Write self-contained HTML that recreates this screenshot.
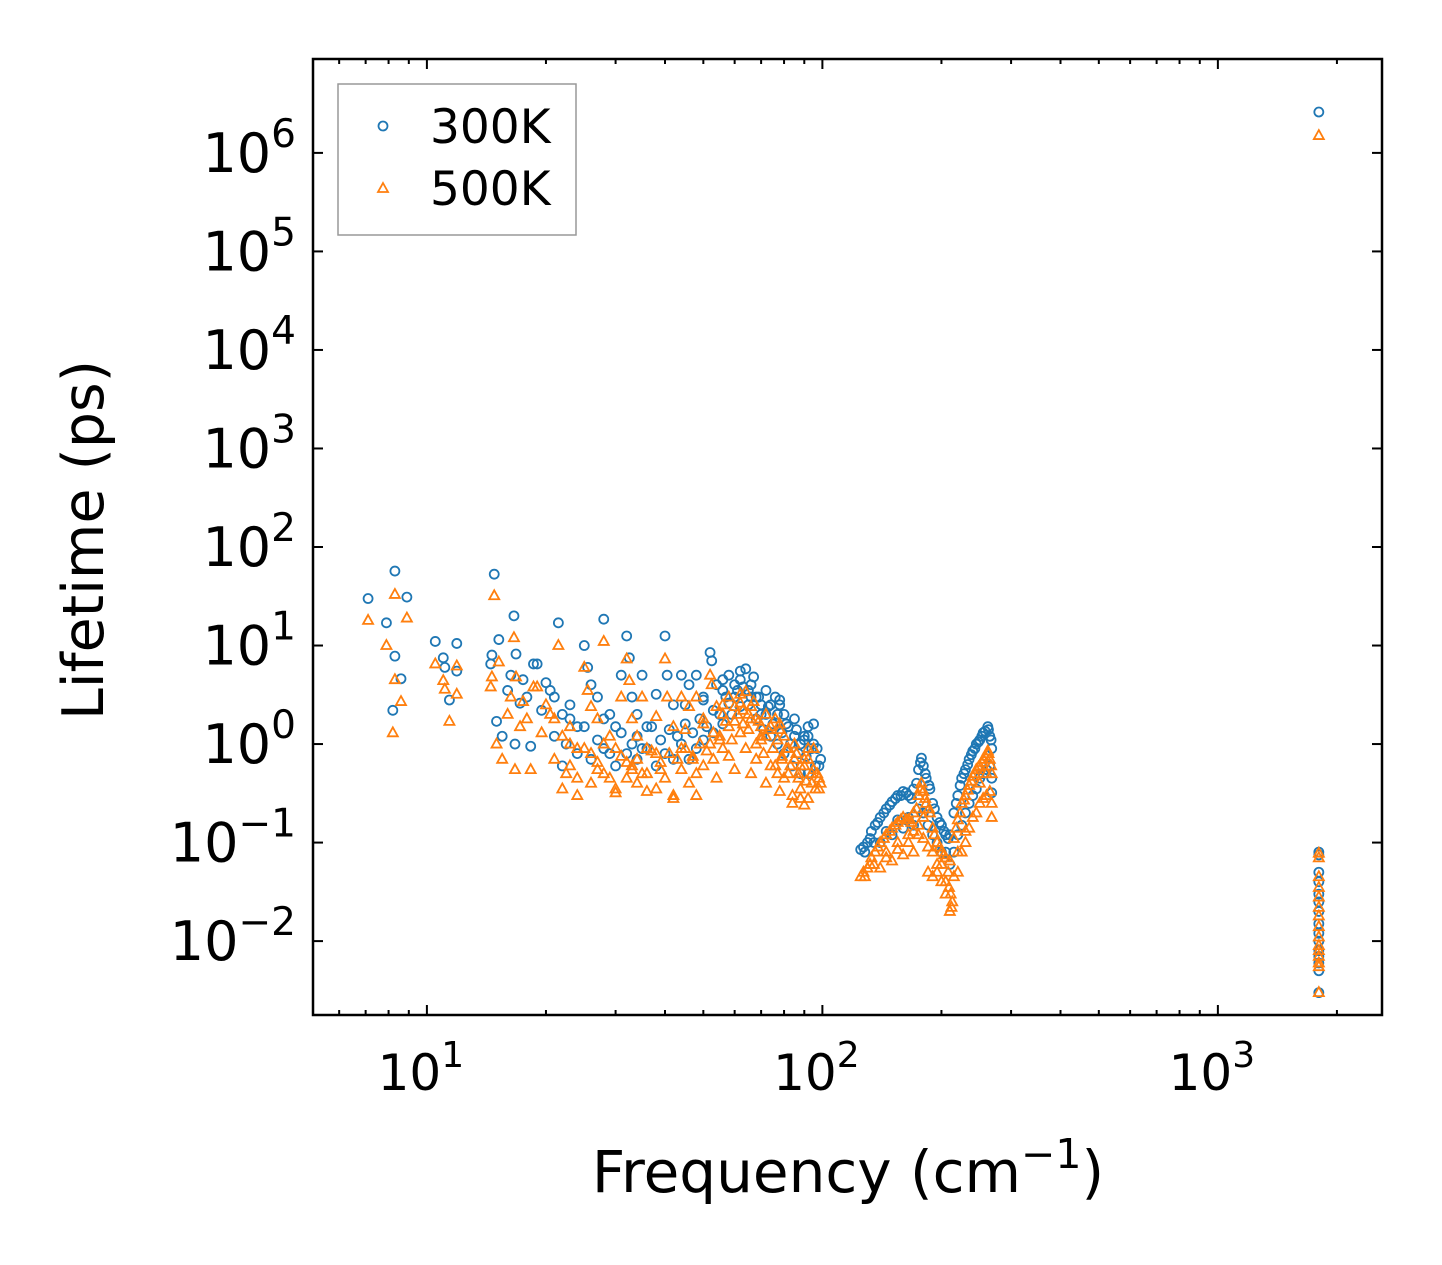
<!DOCTYPE html>
<html><head><meta charset="utf-8"><style>
body{margin:0;background:#fff}
svg{display:block;font-family:"DejaVu Sans","Liberation Sans",sans-serif}
</style></head><body>
<svg id="chart" width="1442" height="1265" viewBox="0 0 1442 1265" xmlns="http://www.w3.org/2000/svg">
<rect width="1442" height="1265" fill="#fff"/>
<g id="marks"></g>
<g id="axes"></g>
<rect x="313" y="59" width="1069" height="956" fill="none" stroke="#000" stroke-width="2.5"/>
<text x="848" y="1192" font-size="58" text-anchor="middle">Frequency (cm<tspan dy="-24" font-size="41">−1</tspan><tspan dy="24">)</tspan></text>
<text transform="translate(103,540) rotate(-90)" font-size="57" text-anchor="middle">Lifetime (ps)</text>
<g>
<rect x="338" y="84" width="238" height="151" fill="#fff" stroke="#999" stroke-width="1.5"/>
<circle cx="383" cy="126" r="4.5" fill="none" stroke="#1f77b4" stroke-width="1.8"/>
<text x="430" y="143" font-size="47">300K</text>
<polygon points="383,183 388,192 378,192" fill="none" stroke="#ff7f0e" stroke-width="1.8"/>
<text x="430" y="205" font-size="47">500K</text>
</g>
</svg>
<script>
const freq300=[7.1,7.9,8.2,8.3,8.3,8.6,8.9,10.5,11,11.1,11.4,11.9,11.9,14.5,14.6,14.8,15,15.2,15.5,16,16.3,16.6,16.7,16.8,17.2,17.5,17.9,18.3,18.6,19,19.5,20,20.5,21,21.5,22,22.5,23,24,25,25.5,26,27,28,29,30,31,32,32.5,33,34,35,36,38,40,40.5,42,44,46,48,50,52,52.5,54,56,58,60,62,64,66,68,70,72,74,76,78,80,82,85,88,90,92,95,97,99,
22,24,26,28,30,32,34,36,38,40,42,44,46,48,50,53,56,59,62,65,68,71,74,77,80,84,88,92,96,25,28,31,34,37,41,45,49,53,57,61,65,69,73,77,81,86,90,94,
125,128,130,133,136,140,145,150,155,160,165,170,175,178,180,183,187,190,195,200,205,210,215,220,225,230,235,240,245,250,255,262,265,268,268,140,150,160,170,180,190,200,210,215,225,235,245,255,265,
1800,1800,1800,1800,1800,1800,1800,1800,1800,1800,1800,1800,1800,1800,1800,1800];
const life300=[30,17,2.2,57,7.8,4.6,31,11,7.5,6,2.8,10.5,5.5,6.5,8,53,1.7,11.5,1.2,3.5,5,20,1,8.2,2.6,4.5,3,0.95,6.5,6.5,2.2,4.2,3.5,3,17,2,1,2.5,1.5,10,6,4,3,18.5,2,1.5,5,12.5,7.5,3,2,5,1.5,3.2,12.5,5,2.5,5,4,5,3,8.5,7,4,3.5,5,4,5.5,5.8,4,3,2.5,2,2.5,3,2.8,2,1.5,1.2,1,1.2,1.5,1.6,0.9,0.7,
0.6,0.8,0.7,0.9,0.6,0.8,0.7,0.9,0.6,0.8,0.7,1,0.7,0.9,1.1,1.3,1.6,2,2.4,2.5,1.8,1.4,1.2,1,0.8,0.6,0.5,0.5,0.6,1.5,1.8,1.3,1.2,1.5,1.4,1.6,1.8,2.2,3,3.5,3.5,3,2.4,2,1.6,1.4,1.1,0.9,
0.085,0.08,0.1,0.13,0.15,0.18,0.22,0.26,0.3,0.33,0.3,0.35,0.55,0.72,0.6,0.45,0.35,0.25,0.18,0.15,0.12,0.12,0.2,0.3,0.45,0.55,0.7,0.85,1,1.1,1.3,1.5,1.2,0.9,0.32,0.1,0.12,0.14,0.15,0.2,0.12,0.08,0.06,0.08,0.15,0.25,0.35,0.5,0.6,
0.08,0.075,0.05,0.04,0.03,0.025,0.02,0.015,0.012,0.01,0.008,0.007,0.006,0.005,0.003,2.6e6];
const freq300Extra=[21,23,27,29,33,35,39,43,47,51,55,58,60,63,66,70,75,79,83,87,91,95,98,56,62,67,72,78,85,92,45,50,
127,132,138,143,148,153,158,163,168,173,177,182,186,192,198,203,208,218,223,228,233,238,243,248,253,258,263,267,135,145,155,165,175,185,195,205,220,230,240,250,260,268];
const life300Extra=[1.2,1.8,1.1,0.8,1,0.9,1.1,1.2,1.3,1.5,2,2.6,3,3.8,3,2,1.6,1.3,1,0.8,0.75,1,0.6,4.5,4.5,4.8,3.5,2.5,1.8,1.2,2.5,2.8,
0.09,0.11,0.16,0.2,0.24,0.28,0.3,0.32,0.28,0.4,0.65,0.5,0.38,0.22,0.16,0.13,0.11,0.25,0.38,0.5,0.62,0.78,0.9,1.05,1.2,1.35,1.4,1.1,0.1,0.13,0.17,0.18,0.22,0.15,0.1,0.08,0.12,0.2,0.3,0.45,0.55,0.45];
const freq500=[7.1,7.9,8.2,8.3,8.3,8.6,8.9,10.5,11,11.1,11.4,11.9,11.9,14.5,14.6,14.8,15,15.2,15.5,16,16.3,16.6,16.7,16.8,17.2,17.5,17.9,18.3,18.6,19,19.5,20,20.5,21,21.5,22,22.5,23,24,25,25.5,26,27,28,29,30,31,32,32.5,33,34,35,36,38,40,40.5,42,44,46,48,50,52,52.5,54,56,58,60,62,64,66,68,70,72,74,76,78,80,82,85,88,90,92,95,97,99,
22,24,26,28,30,32,34,36,38,40,42,44,46,48,50,53,56,59,62,65,68,71,74,77,80,84,88,92,96,25,28,31,34,37,41,45,49,53,57,61,65,69,73,77,81,86,90,94,23,27,33,39,47,55,63,70,79,87,98,
125,128,130,133,136,140,145,150,155,160,165,170,175,178,180,183,187,190,195,200,205,210,215,220,225,230,235,240,245,250,255,262,265,268,268,140,150,160,170,180,185,190,200,205,210,213,225,235,245,255,265,145,155,165,175,195,220,230,250,260,
1800,1800,1800,1800,1800,1800,1800,1800,1800,1800,1800,1800,1800,1800,1800,1800];
const life500=[18,10,1.3,33,4.5,2.7,19,6.5,4.4,3.6,1.7,6.2,3.2,3.8,4.8,32,1,6.8,0.7,2,3,12,0.55,4.8,1.5,2.7,1.8,0.55,3.8,3.8,1.3,2.5,2,1.8,10,1.2,0.5,1.5,0.9,6,3.5,2.4,1.8,11,1.2,0.9,3,7.3,4.4,1.8,1.2,3,0.9,1.9,7.3,3,1.5,3,2.4,3,1.8,5,4,2.4,2,3,2.4,3.2,3.4,2.4,1.8,1.5,1.2,1.5,1.8,1.6,1.2,0.9,0.7,0.6,0.7,0.9,0.9,0.5,0.4,
0.35,0.45,0.4,0.5,0.35,0.45,0.4,0.5,0.35,0.45,0.3,0.55,0.4,0.5,0.6,0.7,0.9,1.1,1.3,1.4,1,0.8,0.6,0.5,0.45,0.3,0.28,0.28,0.35,0.9,1,0.75,0.7,0.85,0.8,0.9,1,1.3,1.7,2,2,1.7,1.4,1.1,0.9,0.8,0.6,0.5,0.6,0.55,0.6,0.55,0.7,1.1,1.6,1.2,0.7,0.5,0.45,
0.045,0.045,0.055,0.07,0.08,0.1,0.12,0.14,0.16,0.18,0.17,0.2,0.3,0.4,0.33,0.25,0.2,0.14,0.1,0.08,0.07,0.065,0.11,0.17,0.25,0.3,0.38,0.47,0.55,0.6,0.7,0.85,0.7,0.5,0.18,0.055,0.065,0.075,0.08,0.11,0.05,0.045,0.04,0.03,0.02,0.025,0.08,0.14,0.2,0.28,0.33,0.08,0.1,0.12,0.15,0.06,0.05,0.1,0.4,0.5,
0.078,0.07,0.045,0.035,0.028,0.022,0.018,0.014,0.011,0.009,0.008,0.007,0.006,0.0055,0.003,1.5e6];
const freq500Extra=[21,23,27,29,33,35,39,43,47,51,55,58,60,63,66,70,75,79,83,87,91,95,98,56,62,67,72,78,85,92,45,50,24,30,36,42,48,54,60,66,72,78,84,90,26,32,38,44,52,58,64,68,76,82,88,94,
127,132,138,143,148,153,158,163,168,173,177,182,186,192,198,203,208,218,223,228,233,238,243,248,253,258,263,267,135,145,155,165,175,185,195,205,211,215,220,230,240,250,260,268,170,180,190,200,209,212];
const life500Extra=[0.7,1,0.65,0.45,0.55,0.5,0.65,0.7,0.75,0.85,1.2,1.5,1.7,2.2,1.8,1.1,0.9,0.75,0.6,0.45,0.42,0.55,0.35,2.5,2.6,2.7,2,1.4,1,0.7,1.4,1.6,0.3,0.32,0.33,0.28,0.3,0.45,0.55,0.5,0.4,0.33,0.25,0.24,0.8,0.65,0.8,0.9,1,0.75,0.9,0.7,0.6,0.5,0.35,0.4,
0.05,0.06,0.09,0.11,0.13,0.15,0.17,0.17,0.16,0.22,0.35,0.28,0.22,0.12,0.09,0.075,0.05,0.14,0.2,0.27,0.34,0.42,0.5,0.58,0.65,0.75,0.8,0.6,0.06,0.07,0.085,0.1,0.12,0.09,0.05,0.04,0.03,0.045,0.08,0.13,0.18,0.25,0.3,0.25,0.13,0.18,0.08,0.06,0.035,0.022];
const xTickExps=[1,2,3];
const yTickExps=[-2,-1,0,1,2,3,4,5,6];

const NS="http://www.w3.org/2000/svg";
const X0=313,X1=1382,Y0=59,Y1=1015;
const xLogMin=0.712,xLogMax=3.415,yLogMin=-2.75,yLogMax=6.953;
function xs(v){return X0+(Math.log10(v)-xLogMin)/(xLogMax-xLogMin)*(X1-X0);}
function ys(v){return Y1-(Math.log10(v)-yLogMin)/(yLogMax-yLogMin)*(Y1-Y0);}
const marks=document.getElementById('marks'),axes=document.getElementById('axes');
function mk(tag,attrs,parent){const e=document.createElementNS(NS,tag);for(const k in attrs)e.setAttribute(k,attrs[k]);parent.appendChild(e);return e;}

const allF300=freq300.concat(freq300Extra), allL300=life300.concat(life300Extra);
const allF500=freq500.concat(freq500Extra), allL500=life500.concat(life500Extra);
allF300.forEach((f,i)=>{
  const c=mk('circle',{cx:xs(f),cy:ys(allL300[i]),r:4.5,fill:'none',stroke:'#1f77b4','stroke-width':1.8},marks);
  
  
});
allF500.forEach((f,i)=>{
  const x=xs(f),y=ys(allL500[i]);
  const p=mk('polygon',{points:`${x},${y-5.5} ${x+5},${y+3.5} ${x-5},${y+3.5}`,fill:'none',stroke:'#ff7f0e','stroke-width':1.8},marks);
  
  
});

for(let e=0;e<=3;e++){for(let m=1;m<10;m++){const v=m*Math.pow(10,e);if(v<Math.pow(10,xLogMin)||v>Math.pow(10,xLogMax))continue;const x=xs(v);const L=m===1?10:5;
  mk('line',{x1:x,x2:x,y1:Y1,y2:Y1-L,stroke:'#000','stroke-width':2},axes);
  mk('line',{x1:x,x2:x,y1:Y0,y2:Y0+L,stroke:'#000','stroke-width':2},axes);}}
xTickExps.forEach(e=>{
  const t=mk('text',{x:xs(Math.pow(10,e))-6,y:1090,'font-size':50,'text-anchor':'middle'},axes);
  
  
  t.innerHTML=`10<tspan dy="-23" font-size="36">${e}</tspan>`;
});
yTickExps.forEach(e=>{
  const y=ys(Math.pow(10,e));
  mk('line',{x1:X0,x2:X0+10,y1:y,y2:y,stroke:'#000','stroke-width':2},axes);
  mk('line',{x1:X1,x2:X1-10,y1:y,y2:y,stroke:'#000','stroke-width':2},axes);
  const t=mk('text',{x:296,y:y+19,'font-size':54,'text-anchor':'end'},axes);
  
  
  const s=e<0?'−'+(-e):''+e;
  t.innerHTML=`10<tspan dy="-25" font-size="39">${s}</tspan>`;
});
</script>
</body></html>
